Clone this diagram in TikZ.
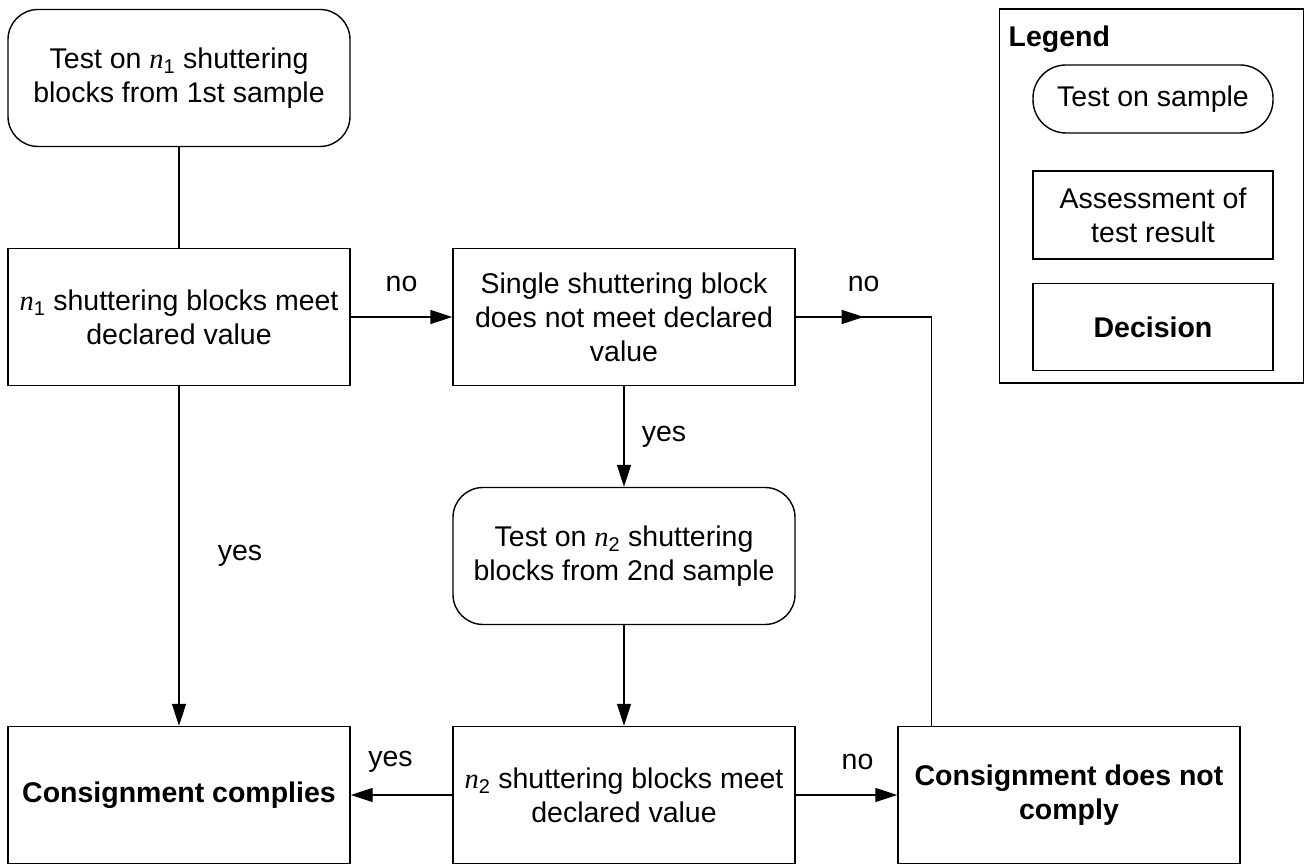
\documentclass[tikz,border=0pt]{standalone}
\usepackage{fontspec}
\setmainfont{Liberation Sans}
\newfontfamily\timesfont{Liberation Serif}
\usetikzlibrary{positioning,calc,arrows.meta}
\newcommand{\flowfont}{\fontsize{28.5}{34}\selectfont}
\newcommand{\nsub}[1]{{\timesfont\itshape n}\textsubscript{#1}}
\tikzset{
	box/.style={draw, minimum width=342pt, minimum height=137pt, align=center, inner sep=2pt, font=\flowfont},
	testbox/.style={box, rounded corners=30pt},
	assessbox/.style={box},
	decisionbox/.style={box, font=\flowfont\bfseries},
	flow/.style={-{Triangle[length=22pt,width=14pt]}},
	answer/.style={font=\flowfont, inner sep=0pt}
}
\begin{document}
\begin{tikzpicture}[x=1pt, y=1pt, line width=1.4pt, node distance=100.6pt and 101.6pt]
	\useasboundingbox (0,0) rectangle (1304,866);
	\node[testbox] (t1) at (179,788) {Test on \nsub{1} shuttering\\blocks from 1st sample};
	\node[assessbox, below=of t1] (a1) {\nsub{1} shuttering blocks meet\\declared value};
	\node[assessbox, right=of a1] (s1) {Single shuttering block\\does not meet declared\\value};
	\node[testbox, below=of s1] (t2) {Test on \nsub{2} shuttering\\blocks from 2nd sample};
	\node[assessbox, below=of t2] (a2) {\nsub{2} shuttering blocks meet\\declared value};
	\node[decisionbox, left=of a2] (ok) {Consignment complies};
	\node[decisionbox, right=of a2] (nok) {Consignment does not\\comply};
	\draw (t1) -- (a1);
	\draw[flow] (a1) -- node[answer, yshift=33pt] {no} (s1);
	\draw[flow] (s1) -- node[answer, xshift=40pt] {yes} (t2);
	\draw[flow] (t2) -- (a2);
	\draw[flow] (a1) -- node[answer, xshift=61pt] {yes} (ok);
	\draw[flow] (a2) -- node[answer, yshift=33pt, xshift=-11pt] {yes} (ok);
	\draw[flow] (a2) -- node[answer, yshift=33pt, xshift=11pt] {no} (nok);
	\coordinate (drop) at ($(nok.north west)!0.1!(nok.north east)$);
	\coordinate (turn) at (s1.east -| drop);
	\draw (s1.east) -- (turn) -- (drop);
	\draw[flow] (s1.east) -- node[answer, pos=1, yshift=33pt] {no} ($(s1.east)!0.5!(turn)$);
	% legend
	\node[draw, minimum width=304pt, minimum height=374pt, anchor=north west, outer sep=0pt] (legend) at (999.7,857) {};
	\node[font=\flowfont\bfseries, inner sep=0pt, anchor=base west] (legendtitle) at (1008,819) {Legend};
	\node[testbox, rounded corners=33pt, minimum width=240pt, minimum height=68pt] (legtest) at (1153,767) {Test on sample};
	\node[assessbox, minimum width=240pt, minimum height=88pt] (legassess) at (1153,651) {Assessment of\\test result};
	\node[decisionbox, minimum width=240pt, minimum height=87pt] (legdecision) at (1153,539) {Decision};
\end{tikzpicture}
\end{document}
